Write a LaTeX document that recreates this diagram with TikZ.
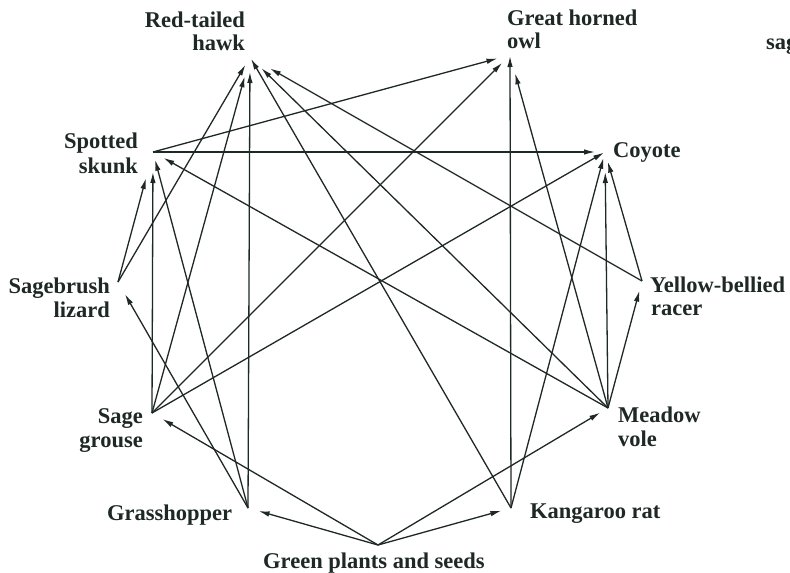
\documentclass[tikz,border=0pt]{standalone}
\usepackage{fontspec}
\setmainfont{Liberation Serif}
\usetikzlibrary{arrows.meta}
\definecolor{ink}{RGB}{30,40,36}
\begin{document}
\begin{tikzpicture}[x=1pt,y=-1pt,
  lbl/.style={font=\fontsize{22.5}{24}\selectfont\bfseries, text=ink, inner sep=0pt},
  link/.style={draw=ink, line width=1.3pt, -{Latex[length=11pt,width=5.5pt]}}]
\useasboundingbox (0,0) rectangle (790,573);
\fill[white] (0,0) rectangle (790,573);
% vertices
\coordinate (H) at (250,57);
\coordinate (O) at (510,55);
\coordinate (C) at (605,152);
\coordinate (S) at (153,152);
\coordinate (L) at (118,282);
\coordinate (R) at (642,281);
\coordinate (V) at (608,408);
\coordinate (G) at (152,413);
\coordinate (Gh) at (248,508);
\coordinate (K) at (511,508);
\coordinate (P) at (378,545);
% labels
\node[lbl, anchor=base east] (hawk1) at (245,27) {Red-tailed};
\node[lbl, anchor=base east] (hawk2) at (245,50) {hawk};
\node[lbl, anchor=base west] (owl1) at (507,25) {Great horned};
\node[lbl, anchor=base west] (owl2) at (507,48) {owl};
\node[lbl, anchor=base west] (sag) at (766,49) {sag};
\node[lbl, anchor=base east] (skunk1) at (138,148) {Spotted};
\node[lbl, anchor=base east] (skunk2) at (138,173) {skunk};
\node[lbl, anchor=base west] (coyote) at (613,157) {Coyote};
\node[lbl, anchor=base east] (lizard1) at (110,293) {Sagebrush};
\node[lbl, anchor=base east] (lizard2) at (110,317) {lizard};
\node[lbl, anchor=base west] (racer1) at (650,292) {Yellow-bellied};
\node[lbl, anchor=base west] (racer2) at (651,315) {racer};
\node[lbl, anchor=base west] (vole1) at (618,422) {Meadow};
\node[lbl, anchor=base west] (vole2) at (618,446) {vole};
\node[lbl, anchor=base east] (grouse1) at (143,423) {Sage};
\node[lbl, anchor=base east] (grouse2) at (143,447) {grouse};
\node[lbl, anchor=base west] (hopper) at (107,520) {Grasshopper};
\node[lbl, anchor=base west] (krat) at (530,518) {Kangaroo rat};
\node[lbl, anchor=base west] (plants) at (263,568) {Green plants and seeds};
% links
\draw[link, shorten >=11pt] (P) -- (Gh);
\draw[link, shorten >=12pt] (P) -- (G);
\draw[link, shorten >=10pt] (P) -- (K);
\draw[link, shorten >=9pt] (P) -- (V);
\draw[link, shorten >=15pt] (Gh) -- (H);
\draw[link, shorten >=8pt] (Gh) -- (S);
\draw[link, shorten >=14pt] (Gh) -- (L);
\draw[link, shorten >=20pt] (G) -- (S);
\draw[link, shorten >=20pt] (G) -- (H);
\draw[link, shorten >=11pt] (G) -- (O);
\draw[link, shorten >=1pt] (G) -- (C);
\draw[link, shorten >=27pt] (L) -- (S);
\draw[link, shorten >=9pt] (L) -- (H);
\draw[link, shorten >=2pt] (K) -- (H);
\draw[link, shorten >=1pt] (K) -- (O);
\draw[link, shorten >=6pt] (K) -- (C);
\draw[link, shorten >=16pt] (V) -- (H);
\draw[link, shorten >=12pt] (V) -- (S);
\draw[link, shorten >=19pt] (V) -- (O);
\draw[link, shorten >=20pt] (V) -- (C);
\draw[link, shorten >=10pt] (V) -- (R);
\draw[link, shorten >=23pt] (R) -- (H);
\draw[link, shorten >=10pt] (R) -- (C);
\draw[link, shorten >=13pt] (S) -- (O);
\draw[link, shorten >=10pt] (S) -- (C);
\end{tikzpicture}
\end{document}
